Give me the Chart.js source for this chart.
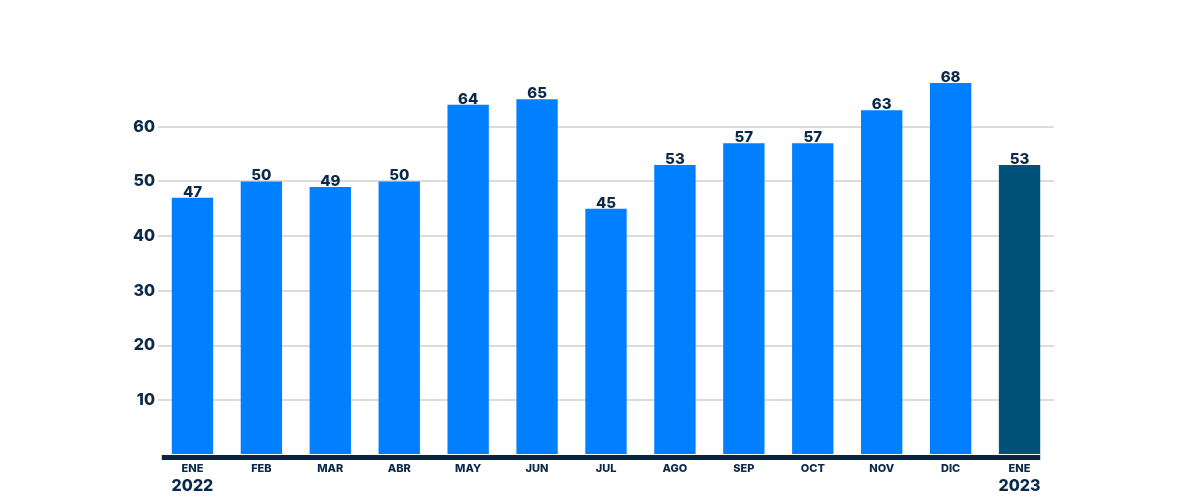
<!DOCTYPE html>
<html>
<head>
<meta charset="utf-8">
<script src="https://cdn.jsdelivr.net/npm/chart.js@4.4.1/dist/chart.umd.min.js"></script>
<style>
  html, body { margin: 0; padding: 0; background: #ffffff; }
  #wrap { width: 1200px; height: 500px; position: relative; }
</style>
</head>
<body>
<div id="wrap"><canvas id="c" width="1200" height="500"></canvas></div>
<script>
const months = ["ENE", "FEB", "MAR", "ABR", "MAY", "JUN", "JUL", "AGO", "SEP", "OCT", "NOV", "DIC", "ENE"];
const years = ["2022", "", "", "", "", "", "", "", "", "", "", "", "2023"];
const values = [47, 50, 49, 50, 64, 65, 45, 53, 57, 57, 63, 68, 53];
const yTicks = [10, 20, 30, 40, 50, 60];

const NAVY = "#0b2a4a";
const BLUE = "#0080ff";
const DARK = "#00527a";
const FONT = "Inter, 'Open Sans', sans-serif";

const barColors = values.map((v, i) => i === values.length - 1 ? DARK : BLUE);

const overlay = {
  id: "overlay",
  afterDatasetsDraw(chart) {
    const ctx = chart.ctx;
    const meta = chart.getDatasetMeta(0);
    const area = chart.chartArea;
    const xs = chart.scales.x;
    ctx.save();
    const lastBar = meta.data[meta.data.length - 1];
    const firstBar = meta.data[0];
    const right = lastBar.x + lastBar.width / 2;
    const left = firstBar.x - firstBar.width / 2 - 10;
    ctx.fillStyle = "#0a2542";
    ctx.fillRect(left, area.bottom, right - left, 5);
    ctx.fillStyle = NAVY;
    ctx.font = "800 15px " + FONT;
    ctx.textAlign = "center";
    ctx.textBaseline = "alphabetic";
    meta.data.forEach((bar, i) => {
      ctx.fillText(String(values[i]), bar.x, bar.y - 1);
    });
    ctx.font = "800 16px " + FONT;
    ctx.textBaseline = "middle";
    years.forEach((y, i) => {
      if (y) ctx.fillText(y, xs.getPixelForValue(i), area.bottom + 31);
    });
    ctx.restore();
  }
};

new Chart(document.getElementById("c"), {
  type: "bar",
  data: {
    labels: months,
    datasets: [{
      data: values,
      backgroundColor: barColors,
      borderWidth: 0,
      categoryPercentage: 1.0,
      barPercentage: 0.6
    }]
  },
  options: {
    responsive: false,
    animation: false,
    devicePixelRatio: 1,
    layout: { padding: { left: 98, right: 146, top: 72, bottom: 0 } },
    plugins: { legend: { display: false }, tooltip: { enabled: false } },
    scales: {
      x: {
        grid: { display: false, drawTicks: false },
        border: { display: false },
        ticks: {
          color: NAVY,
          font: { family: FONT, size: 11, weight: "800" },
          padding: 7,
          maxRotation: 0,
          autoSkip: false
        },
        afterFit(scale) { scale.height = 45; }
      },
      y: {
        min: 0,
        max: 70,
        afterBuildTicks(scale) { scale.ticks = [0].concat(yTicks, [70]).map(v => ({ value: v })); },
        grid: {
          drawTicks: false,
          lineWidth: 2,
          color: (c) => (c.tick && yTicks.includes(c.tick.value)) ? "#dcdcdc" : "rgba(0,0,0,0)"
        },
        border: { display: false },
        ticks: {
          color: NAVY,
          font: { family: FONT, size: 16, weight: "800" },
          padding: 3,
          callback: (v) => yTicks.includes(v) ? String(v) : ""
        },
        afterFit(scale) { scale.width = 60; }
      }
    }
  },
  plugins: [overlay]
});
</script>
</body>
</html>
